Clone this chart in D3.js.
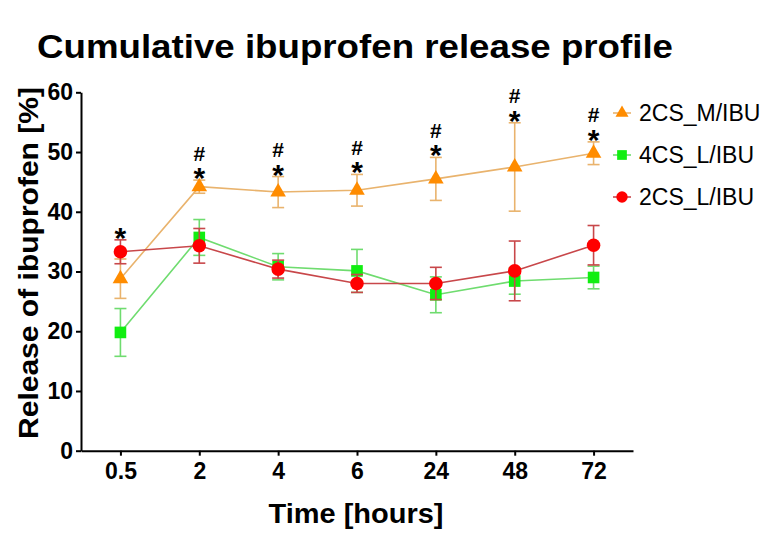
<!DOCTYPE html>
<head>
<meta charset="utf-8">
<style>
body { margin: 0; background: #fff; font-family: "Liberation Sans", Arial, sans-serif; }
.axis path, .axis line { stroke: #000; stroke-width: 2; }
.axis text { font-size: 23px; font-weight: bold; fill: #000; font-family: "Liberation Sans", Arial, sans-serif; }
</style>
</head>
<body>
<script src="https://cdn.jsdelivr.net/npm/d3@7"></script>
<script>

// time points (categorical x axis)
var times = ["0.5", "2", "4", "6", "24", "48", "72"];
var yTicks = [0, 10, 20, 30, 40, 50, 60];

// mean release [%] and error (+/-) for each formulation
var m2csMean = [28.8, 44.2, 43.3, 43.6, 45.5, 47.5, 49.8];
var m2csErr  = [3.3, 1.1, 2.6, 2.65, 3.6, 7.4, 1.9];
var l4csMean = [19.8, 35.7, 30.8, 30.1, 26.1, 28.4, 29.0];
var l4csErr  = [4.0, 3.0, 2.2, 3.6, 3.0, 2.2, 1.9];
var l2csMean = [33.3, 34.3, 30.4, 28.0, 28.0, 30.1, 34.4];
var l2csErr  = [2.0, 2.9, 1.5, 1.5, 2.7, 5.0, 3.3];

// significance marks per time point
var marks = [["*"], ["#", "*"], ["#", "*"], ["#", "*"], ["#", "*"], ["#", "*"], ["#", "*"]];

var series = [
  {name: "2CS_M/IBU", mean: m2csMean, err: m2csErr, shape: d3.symbolTriangle, size: 105, fill: "#ff8c00", line: "#e9b36d"},
  {name: "4CS_L/IBU", mean: l4csMean, err: l4csErr, shape: d3.symbolSquare, size: 135, fill: "#11ee11", line: "#6fdc6f"},
  {name: "2CS_L/IBU", mean: l2csMean, err: l2csErr, shape: d3.symbolCircle, size: 145, fill: "#ff0000", line: "#c8474a"}
];

var W = 774, H = 540;
var plotLeft = 81, plotRight = 633, plotTop = 92.3, plotBottom = 450.7;

var svg = d3.select("body").append("svg")
    .attr("width", W).attr("height", H);

var x = d3.scalePoint().domain(times).range([plotLeft, plotRight]).padding(0.5);
var y = d3.scaleLinear().domain([0, 60]).range([plotBottom, plotTop]);

// axes
svg.append("g")
    .attr("class", "axis")
    .attr("transform", "translate(0," + plotBottom + ")")
    .call(d3.axisBottom(x).tickSize(5).tickSizeOuter(0).tickPadding(7))
    .selectAll("text").attr("dy", "0.71em");

svg.append("g")
    .attr("class", "axis")
    .attr("transform", "translate(" + plotLeft + ",0)")
    .call(d3.axisLeft(y).tickValues(yTicks).tickSize(5).tickSizeOuter(0).tickPadding(3));

// lines, error bars, markers
series.forEach(function(s) {
  var g = svg.append("g");
  var pts = times.map(function(t, i) { return {t: t, v: s.mean[i], e: s.err[i]}; });

  g.append("path")
      .attr("d", d3.line().x(function(d) { return x(d.t); }).y(function(d) { return y(d.v); })(pts))
      .attr("fill", "none")
      .attr("stroke", s.line)
      .attr("stroke-width", 1.6);

  pts.forEach(function(d) {
    var cx = x(d.t);
    g.append("line")
        .attr("x1", cx).attr("x2", cx)
        .attr("y1", y(d.v - d.e)).attr("y2", y(d.v + d.e))
        .attr("stroke", s.line).attr("stroke-width", 1.6);
    [d.v - d.e, d.v + d.e].forEach(function(v) {
      g.append("line")
          .attr("x1", cx - 6).attr("x2", cx + 6)
          .attr("y1", y(v)).attr("y2", y(v))
          .attr("stroke", s.line).attr("stroke-width", 1.6);
    });
  });

  g.selectAll(".mk").data(pts).enter().append("path")
      .attr("transform", function(d) { return "translate(" + x(d.t) + "," + y(d.v) + ")"; })
      .attr("d", d3.symbol().type(s.shape).size(s.size))
      .attr("fill", s.fill);
});

// significance marks above the highest error bar
times.forEach(function(t, i) {
  var topVal = d3.max(series, function(s) { return s.mean[i] + s.err[i]; });
  var capY = y(topVal);
  var m = marks[i];
  m.forEach(function(sym, j) {
    var isStar = sym === "*";
    svg.append("text")
        .attr("x", x(t))
        .attr("y", isStar ? capY + 8 : capY - 19.5)
        .attr("text-anchor", "middle")
        .attr("font-weight", "bold")
        .attr("font-size", isStar ? 30 : 21)
        .text(sym);
  });
});

// legend
var legend = svg.append("g");
series.forEach(function(s, i) {
  var ly = 113 + i * 42;
  legend.append("line")
      .attr("x1", 613).attr("x2", 631)
      .attr("y1", ly).attr("y2", ly)
      .attr("stroke", s.line).attr("stroke-width", 1.6);
  legend.append("path")
      .attr("transform", "translate(622," + ly + ")")
      .attr("d", d3.symbol().type(s.shape).size(s.size * 0.7))
      .attr("fill", s.fill);
  legend.append("text")
      .attr("x", 639).attr("y", ly + 8)
      .attr("font-size", 23)
      .text(s.name);
});

// titles
svg.append("text")
    .attr("x", 37).attr("y", 58)
    .attr("font-size", 33).attr("font-weight", "bold")
    .attr("textLength", 636).attr("lengthAdjust", "spacingAndGlyphs")
    .text("Cumulative ibuprofen release profile");

svg.append("text")
    .attr("x", 356).attr("y", 523)
    .attr("text-anchor", "middle")
    .attr("font-size", 28).attr("font-weight", "bold")
    .attr("textLength", 175).attr("lengthAdjust", "spacingAndGlyphs")
    .text("Time [hours]");

svg.append("text")
    .attr("transform", "translate(38,263) rotate(-90)")
    .attr("text-anchor", "middle")
    .attr("font-size", 28).attr("font-weight", "bold")
    .attr("textLength", 352).attr("lengthAdjust", "spacingAndGlyphs")
    .text("Release of ibuprofen [%]");

</script>
</body>
